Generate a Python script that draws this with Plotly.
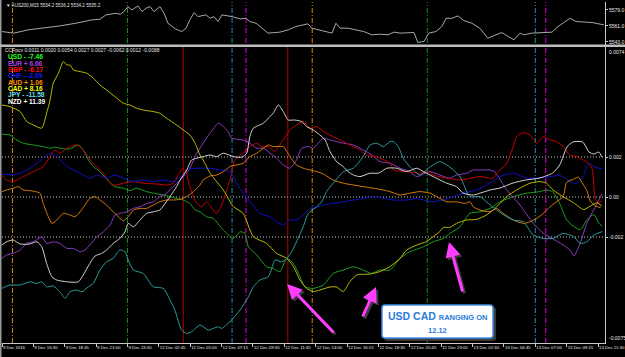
import plotly.graph_objects as go

W, H = 625, 357

# ---------------- data ----------------
X_TICK_BARS = [0, 9, 18, 27, 36, 45, 54, 63, 72, 81, 90, 99, 108, 117, 126, 135, 144, 153, 162, 171]
X_TICK_LABELS = ["9 Dec 2016", "9 Dec 16:30", "9 Dec 18:45", "9 Dec 21:00", "9 Dec 23:30",
                 "12 Dec 02:45", "12 Dec 05:00", "12 Dec 07:15", "12 Dec 09:30", "12 Dec 11:45",
                 "12 Dec 14:00", "12 Dec 16:15", "12 Dec 18:30", "12 Dec 20:45", "12 Dec 23:00",
                 "13 Dec 02:30", "13 Dec 04:45", "13 Dec 07:00", "13 Dec 09:15", "13 Dec 11:30"]

SESSION_BARS = [3, 36, 66, 70, 89, 122, 153, 156]
SESSION_KIND = ["orange", "green", "cyan", "magenta", "orange", "green", "cyan", "magenta"]
MARK_BARS = [52, 82]

PRICE_TICKS = [5579.0, 5561.0, 5543.0]
CCF_TICKS = [0.002, 0.0, -0.002]
CCF_TICK_TEXT = ["0.002", "0.00", "-0.002"]
CCF_TOP_LABEL = "0.0074"
CCF_BOTTOM_LABEL = "-0.0075"

AUS200 = [(0, 5554.6), (3.4, 5552.8), (7.5, 5556.5), (12.1, 5558.4), (16.6, 5561.0), (21.2, 5564.0),
          (25.8, 5567.8), (28.1, 5568.5), (29.8, 5573.4), (32.7, 5575.3), (33.9, 5574.1), (35.0, 5577.1),
          (36.1, 5582.8), (37.3, 5579.0), (39.0, 5583.5), (40.2, 5577.1), (41.3, 5580.9), (42.5, 5582.8),
          (43.6, 5577.1), (45.3, 5582.8), (46.5, 5575.3), (47.6, 5564.0), (49.9, 5557.3), (51.6, 5554.6),
          (52.8, 5558.4), (53.9, 5567.8), (55.1, 5576.0), (56.2, 5571.5), (57.4, 5572.3), (58.5, 5573.4),
          (59.7, 5569.6), (60.8, 5571.5), (62.0, 5565.9), (63.1, 5573.4), (66.0, 5571.5), (68.3, 5568.9),
          (70.0, 5569.6), (71.1, 5565.9), (72.9, 5564.0), (75.2, 5556.5), (76.3, 5552.8), (79.7, 5553.9),
          (82.1, 5556.5), (84.3, 5560.3), (87.8, 5563.3), (88.9, 5558.4), (92.9, 5554.6), (94.7, 5552.8),
          (95.8, 5564.0), (97.0, 5558.4), (99.3, 5558.4), (103.8, 5554.6), (106.1, 5550.9), (108.4, 5551.6),
          (110.7, 5550.9), (112.5, 5553.9), (114.2, 5552.8), (118.2, 5553.5), (119.3, 5542.3), (121.1, 5543.4),
          (122.4, 5552.8), (124.5, 5554.6), (126.2, 5560.3), (127.4, 5569.6), (129.1, 5569.6), (130.8, 5572.3),
          (132.5, 5567.0), (134.8, 5564.0), (137.1, 5558.4), (139.4, 5547.1), (141.7, 5550.9), (143.4, 5553.5),
          (145.2, 5549.0), (146.9, 5545.3), (148.6, 5552.8), (149.7, 5550.9), (152.0, 5552.8), (155.5, 5553.9),
          (157.8, 5553.9), (159.5, 5560.3), (161.2, 5564.8), (163.0, 5569.6), (164.7, 5565.9), (167.0, 5565.1),
          (169.3, 5564.8), (172.7, 5562.1)]

USD = [(0, 0.00314), (2.3, 0.0031), (4.2, 0.00285), (6.1, 0.00269), (9.0, 0.0026), (11.8, 0.00252),
       (13.8, 0.00244), (15.2, 0.00249), (16.6, 0.00244), (18.6, 0.00239), (20.0, 0.00244), (21.9, 0.0026),
       (23.3, 0.00235), (24.8, 0.00185), (26.2, 0.00152), (28.1, 0.00127), (30.5, 0.0008), (32.4, 0.00052),
       (34.8, 0.00044), (36.7, 0.00032), (38.6, 0.00044), (41.5, 0.00027), (43.4, 0.00019), (46.3, 0.0001),
       (48.2, 0.00002), (50.1, -0.00007), (52.0, -0.00015), (53.9, -0.00032), (55.4, -0.00065), (56.8, -0.00074),
       (58.7, -0.00099), (60.6, -0.00107), (63.5, -0.00165), (66.4, -0.00207), (68.3, -0.00174), (69.7, -0.00182),
       (70.7, -0.00249), (73.1, -0.0029), (75.9, -0.00349), (77.8, -0.00357), (79.7, -0.00374), (81.7, -0.00307),
       (83.6, -0.00332), (85.5, -0.00399), (86.9, -0.00449), (89.3, -0.00457), (92.2, -0.0044), (95.0, -0.00382),
       (97.9, -0.00365), (100.8, -0.00349), (103.6, -0.00365), (106.0, -0.00382), (108.4, -0.00365),
       (111.3, -0.00365), (114.2, -0.00307), (117.0, -0.00274), (120.9, -0.00249), (123.7, -0.00224),
       (126.6, -0.00207), (128.5, -0.00182), (131.4, -0.00149), (134.2, -0.00082), (137.1, -0.00074),
       (140.0, -0.00057), (142.9, -0.00024), (146.7, 0.00002), (150.5, 0.00019), (154.3, 0.00027),
       (156.2, 0.00035), (158.1, 0.00025), (160.1, -0.00037), (162.0, -0.00114), (164.0, -0.00147),
       (165.9, -0.00164), (167.8, -0.00114), (169.8, -0.00088), (171.2, -0.0013), (172.2, -0.00147)]

EUR = [(0, -0.00307), (1.3, -0.0029), (3.2, -0.00282), (5.2, -0.00265), (7.1, -0.00232), (9.0, -0.00224),
       (11.4, -0.00199), (12.8, -0.00232), (14.7, -0.00224), (16.6, -0.00232), (18.6, -0.00257), (20.5, -0.00257),
       (22.4, -0.00274), (23.8, -0.00265), (25.2, -0.0024), (27.2, -0.00199), (29.1, -0.00174), (31.0, -0.0014),
       (32.4, -0.0009), (33.8, -0.00082), (35.8, -0.00074), (37.7, -0.00057), (39.6, -0.00049), (41.5, -0.00032),
       (43.4, -0.00024), (45.3, 0.00002), (47.2, 0.00019), (49.1, 0.00052), (51.1, 0.00085), (53.0, 0.00119),
       (53.9, 0.00144), (55.9, 0.00219), (57.7, 0.00269), (59.7, 0.00319), (62.1, 0.00369), (63.5, 0.00352),
       (64.9, 0.00327), (65.9, 0.00294), (67.3, 0.00289), (69.2, 0.00285), (71.1, 0.00269), (73.1, 0.00244),
       (75.0, 0.00244), (76.9, 0.00219), (78.8, 0.00194), (80.7, 0.0016), (82.6, 0.00144), (84.5, 0.00185),
       (86.0, 0.00244), (87.9, 0.00252), (89.3, 0.00244), (90.7, 0.00269), (92.2, 0.00294), (94.1, 0.00285),
       (96.0, 0.00277), (97.9, 0.00269), (100.8, 0.0026), (103.6, 0.00235), (106.1, 0.0021), (108.4, 0.00177),
       (111.3, 0.00169), (114.2, 0.00144), (117.0, 0.00127), (119.0, 0.00102), (122.8, 0.00127), (125.6, 0.0011),
       (128.5, 0.00094), (130.4, 0.0011), (133.3, 0.00119), (135.2, 0.00135), (137.1, 0.00135), (140.0, 0.00135),
       (141.4, 0.00125), (144.8, 0.00035), (148.6, -0.0004), (152.3, -0.0013), (155.2, -0.0018),
       (158.6, -0.00215), (161.0, -0.0024), (163.0, -0.00265), (164.1, -0.00295), (165.9, -0.0023),
       (167.8, -0.0013), (169.8, -0.00063), (172.1, 0.00015)]

GBP = [(0, 0.0011), (1.3, 0.00085), (3.2, 0.00077), (5.2, 0.00094), (7.1, 0.0011), (9.0, 0.00127),
       (11.8, 0.00152), (13.8, 0.00202), (15.2, 0.00235), (16.6, 0.00219), (18.6, 0.00244), (20.0, 0.00255),
       (21.4, 0.0026), (22.9, 0.00244), (24.3, 0.0021), (25.7, 0.00177), (27.2, 0.00152), (29.1, 0.00119),
       (30.0, 0.00094), (31.5, 0.0006), (32.9, 0.0006), (34.8, 0.00069), (37.7, 0.00077), (40.5, 0.00069),
       (44.4, 0.00065), (47.2, 0.0006), (49.1, 0.00069), (50.6, 0.0011), (51.9, 0.00144), (52.8, 0.00125),
       (53.9, 0.00052), (54.9, 0.00002), (55.9, -0.00032), (57.3, -0.00049), (58.7, -0.00024), (60.2, -0.00057),
       (61.6, -0.00082), (63.0, -0.0004), (64.5, 0.00035), (65.9, 0.00119), (66.8, 0.00185), (69.2, 0.00219),
       (71.1, 0.00252), (73.1, 0.00269), (74.5, 0.00252), (76.4, 0.00252), (78.3, 0.00227), (79.3, 0.00252),
       (80.7, 0.00285), (82.6, 0.00335), (84.5, 0.0036), (86.4, 0.00377), (88.4, 0.00344), (90.3, 0.00352),
       (92.2, 0.00327), (95.0, 0.00302), (97.9, 0.00277), (100.8, 0.00252), (102.7, 0.00235), (104.6, 0.0021),
       (107.5, 0.00202), (111.3, 0.00169), (112.3, 0.00135), (116.1, 0.00127), (119.9, 0.00119), (122.3, 0.00127),
       (123.7, 0.0011), (127.6, 0.00094), (131.4, 0.00085), (137.1, 0.00102), (140.9, 0.00094), (141.9, 0.00119),
       (144.8, 0.00169), (146.7, 0.00252), (147.6, 0.00302), (149.6, 0.00322), (151.5, 0.0031), (153.4, 0.00269),
       (155.3, 0.00302), (157.2, 0.00285), (159.1, 0.00277), (161.0, 0.00252), (162.9, 0.0021), (164.9, 0.00202),
       (165.9, 0.00192), (167.8, 0.00175), (169.3, 0.00141), (169.8, 0.00056), (170.3, -0.00012),
       (171.3, -0.00029), (172.2, -0.0002)]

CHF = [(0, 0.00115), (2.3, 0.0011), (5.2, 0.00119), (8.0, 0.00144), (10.0, 0.00169), (11.8, 0.00194),
       (13.8, 0.00219), (15.7, 0.00202), (17.6, 0.00169), (19.5, 0.00144), (21.4, 0.00127), (23.3, 0.0011),
       (25.2, 0.00094), (27.2, 0.0011), (30.0, 0.00094), (32.4, 0.0011), (34.8, 0.00094), (37.7, 0.00077),
       (40.5, 0.00085), (43.4, 0.00077), (46.3, 0.00085), (49.1, 0.00077), (51.1, 0.001), (53.9, 0.0014),
       (56.8, 0.00144), (59.7, 0.00144), (62.5, 0.00135), (65.4, 0.00127), (66.8, 0.00085), (69.2, 0.00019),
       (71.6, -0.00032), (74.0, -0.00082), (76.9, -0.00099), (78.8, -0.00124), (80.7, -0.0014), (82.6, -0.00115),
       (84.5, -0.00115), (86.4, -0.0009), (88.4, -0.00057), (90.3, -0.00049), (92.2, -0.0004), (95.0, -0.00032),
       (97.9, -0.00024), (100.8, -0.00015), (103.6, -0.00007), (106.5, 0.00002), (109.4, -0.00007),
       (112.3, -0.00015), (116.1, -0.00015), (119.0, -0.00007), (122.8, -0.00024), (126.6, -0.00015),
       (129.5, 0.00002), (132.3, 0.00019), (136.2, 0.00035), (140.0, 0.00069), (142.9, 0.00102), (146.7, 0.00119),
       (150.5, 0.00094), (153.5, 0.00095), (156.3, 0.001), (160.1, 0.00107), (162.0, 0.0009), (164.0, 0.00065),
       (165.4, 0.00073), (166.9, 0.00107), (167.8, 0.00158), (168.8, 0.00167), (169.8, 0.0015), (172.2, 0.00141)]

AUD = [(0, 0.00027), (1.3, 0.00035), (3.2, 0.00044), (4.7, 0.00052), (6.1, 0.00035), (8.0, 0.00032),
       (10.9, 0.00019), (11.8, -0.00032), (13.3, -0.00099), (14.3, -0.00132), (15.7, -0.00115), (17.6, -0.00082),
       (19.5, -0.0009), (20.9, -0.00099), (22.4, -0.00074), (23.8, -0.0004), (25.2, -0.00007), (26.7, 0.00002),
       (28.1, -0.00015), (30.0, -0.0004), (31.9, -0.00074), (33.4, -0.00099), (34.8, -0.00119), (36.2, -0.00099),
       (37.7, -0.00065), (39.6, -0.00057), (41.5, -0.00057), (43.4, -0.0004), (45.3, -0.00024), (47.2, -0.00015),
       (49.1, -0.00015), (51.1, -0.00012), (53.0, 0.00002), (54.9, 0.00027), (56.8, 0.0006), (57.7, 0.00085),
       (59.7, 0.00105), (61.6, 0.0011), (63.5, 0.00127), (65.4, 0.00152), (67.3, 0.0016), (69.2, 0.00169),
       (71.1, 0.00202), (73.1, 0.00219), (75.0, 0.00244), (76.4, 0.0026), (77.8, 0.00252), (80.7, 0.00252),
       (81.7, 0.00227), (82.6, 0.00202), (84.5, 0.0016), (86.4, 0.00144), (88.4, 0.00135), (90.3, 0.00127),
       (92.2, 0.00115), (95.0, 0.00085), (97.9, 0.00069), (100.8, 0.0006), (103.6, 0.00052), (106.5, 0.00044),
       (109.4, 0.00035), (111.3, 0.00027), (114.2, 0.0001), (117.0, 0.00019), (119.9, 0.00027), (122.8, 0.00019),
       (124.7, 0.00002), (127.6, -0.00024), (130.4, -0.00024), (132.8, -0.00032), (134.3, -0.00024),
       (135.2, -0.00049), (137.1, -0.00065), (140.0, -0.00074), (141.9, -0.00057), (143.8, -0.00082),
       (146.7, -0.00115), (149.6, -0.00132), (151.5, -0.00124), (153.4, -0.00107), (155.3, -0.00082),
       (157.2, -0.00049), (159.1, -0.00024), (161.0, 0.00002), (162.0, 0.00073), (164.0, 0.0009),
       (165.4, 0.00099), (166.4, 0.00073), (167.8, 0.00031), (168.8, -0.0002), (170.3, -0.00045), (171.8, -0.00054)]

CAD = [(0, 0.0046), (2.3, 0.00452), (5.2, 0.00427), (7.1, 0.00377), (9.0, 0.0036), (11.4, 0.00344),
       (12.8, 0.00419), (13.8, 0.00485), (14.7, 0.00569), (16.2, 0.00619), (17.6, 0.00677), (18.6, 0.0066),
       (19.5, 0.0066), (20.5, 0.00635), (22.4, 0.00627), (24.3, 0.00619), (26.2, 0.00594), (28.1, 0.0056),
       (30.0, 0.00535), (32.4, 0.00502), (34.8, 0.00469), (36.7, 0.0046), (38.6, 0.00444), (40.5, 0.00435),
       (43.4, 0.00427), (45.3, 0.00419), (47.2, 0.00394), (50.1, 0.0036), (52.0, 0.00335), (53.9, 0.0031),
       (55.4, 0.00269), (56.8, 0.0021), (57.7, 0.00185), (59.7, 0.00119), (63.5, 0.00035), (66.4, -0.00048),
       (69.2, -0.00082), (72.1, -0.00198), (75.9, -0.00232), (78.8, -0.00282), (81.7, -0.00307), (83.6, -0.00348),
       (85.5, -0.00415), (87.4, -0.00457), (89.3, -0.00473), (91.2, -0.00465), (94.1, -0.0045), (96.0, -0.0045),
       (97.9, -0.00473), (99.8, -0.00423), (101.8, -0.0039), (105.6, -0.00385), (108.4, -0.00373),
       (111.3, -0.00348), (114.2, -0.00307), (116.1, -0.00265), (119.0, -0.0024), (121.8, -0.00223),
       (123.7, -0.00198), (125.6, -0.00173), (126.6, -0.00152), (128.5, -0.00152), (130.4, -0.00132),
       (133.3, -0.00115), (136.2, -0.00112), (139.0, -0.0009), (140.9, -0.00065), (142.9, -0.00032),
       (144.8, 0.00002), (147.6, 0.00035), (151.5, 0.00069), (154.3, 0.00077), (156.2, 0.00069), (158.1, 0.00035),
       (161.0, 0.00002), (164.0, -0.00029), (166.9, -0.00063), (168.8, -0.00045), (170.7, -0.00029),
       (172.1, -0.00045)]

JPY = [(0, -0.00457), (2.3, -0.0044), (5.2, -0.0044), (8.0, -0.00424), (10.0, -0.00432), (11.4, -0.00424),
       (12.8, -0.00449), (14.7, -0.00445), (16.6, -0.00474), (18.1, -0.00507), (19.5, -0.00474), (21.4, -0.00465),
       (22.9, -0.00474), (24.8, -0.00449), (26.2, -0.00432), (28.1, -0.00365), (30.0, -0.00324), (31.9, -0.00307),
       (33.8, -0.00265), (35.3, -0.00274), (36.2, -0.00315), (37.7, -0.00365), (40.5, -0.00382), (43.4, -0.00449),
       (46.3, -0.00457), (48.2, -0.00515), (49.6, -0.00565), (51.5, -0.00665), (53.0, -0.00682), (54.4, -0.00674),
       (56.8, -0.0064), (59.2, -0.00665), (60.6, -0.00657), (62.1, -0.00649), (63.0, -0.00657), (65.4, -0.00624),
       (68.3, -0.00565), (70.7, -0.00499), (72.1, -0.00449), (74.0, -0.00415), (76.4, -0.00399), (77.4, -0.00357),
       (78.3, -0.00315), (80.2, -0.00324), (81.7, -0.00307), (83.1, -0.00274), (84.5, -0.00224), (86.4, -0.00149),
       (87.9, -0.00082), (90.3, -0.00049), (91.7, -0.00024), (93.1, 0.00027), (95.0, 0.00069), (97.0, 0.0011),
       (97.9, 0.00127), (100.8, 0.00144), (103.6, 0.00202), (105.6, 0.0026), (107.5, 0.00269), (109.4, 0.00252),
       (111.3, 0.00277), (112.3, 0.00277), (113.7, 0.00252), (115.1, 0.00194), (117.0, 0.00152), (119.9, 0.0011),
       (122.3, 0.00144), (125.6, 0.00177), (127.6, 0.0016), (129.5, 0.00135), (131.4, 0.00102), (132.3, 0.00069),
       (134.2, 0.00002), (137.1, 0.00002), (139.0, -0.00024), (141.9, -0.00065), (144.8, -0.00099),
       (146.7, -0.00115), (149.6, -0.00124), (152.4, -0.0019), (155.3, -0.00207), (158.1, -0.00207),
       (161.0, -0.00182), (164.0, -0.00198), (165.9, -0.00232), (167.8, -0.00224), (169.8, -0.0019),
       (172.2, -0.00173)]

NZD = [(0, -0.0024), (1.3, -0.00224), (3.2, -0.00215), (5.2, -0.00235), (8.0, -0.00235), (10.0, -0.00224),
       (11.4, -0.00249), (12.8, -0.00332), (14.3, -0.00399), (15.7, -0.00415), (18.6, -0.00424), (21.9, -0.00424),
       (23.3, -0.0039), (25.2, -0.00332), (26.7, -0.00295), (28.6, -0.00282), (30.0, -0.00265), (31.9, -0.00232),
       (33.8, -0.00207), (35.3, -0.00174), (36.2, -0.00132), (37.7, -0.00149), (39.6, -0.00115), (41.5, -0.00082),
       (43.4, -0.00074), (45.3, -0.00065), (46.8, -0.00032), (48.2, 0.00002), (50.1, 0.00052), (51.1, 0.00085),
       (53.0, 0.00135), (54.4, 0.00185), (55.9, 0.00194), (57.7, 0.00202), (59.7, 0.0021), (61.6, 0.00202),
       (63.5, 0.00219), (66.4, 0.00202), (68.8, 0.00199), (70.2, 0.00219), (71.1, 0.00302), (72.1, 0.00344),
       (75.0, 0.00369), (76.4, 0.00394), (77.8, 0.00419), (79.3, 0.0046), (80.7, 0.00427), (82.1, 0.00385),
       (84.0, 0.00385), (86.0, 0.00377), (87.4, 0.00352), (89.3, 0.00335), (91.2, 0.0031), (92.7, 0.00285),
       (94.1, 0.00227), (96.0, 0.00177), (97.9, 0.00152), (99.3, 0.00127), (100.8, 0.0011), (102.7, 0.00102),
       (105.6, 0.00119), (108.0, 0.00119), (110.4, 0.00144), (113.2, 0.00144), (116.1, 0.00127), (119.0, 0.00144),
       (120.9, 0.00127), (123.7, 0.00102), (127.6, 0.00069), (130.4, 0.00052), (132.3, 0.00019), (135.2, 0.0001),
       (137.1, 0.00019), (140.0, 0.00035), (142.9, 0.00045), (146.6, 0.0007), (150.3, 0.00085), (154.3, 0.00095),
       (158.0, 0.0012), (160.0, 0.0016), (162.1, 0.0025), (163.8, 0.00275), (166.6, 0.00275), (168.4, 0.00225),
       (169.8, 0.00215), (171.2, 0.00225), (172.1, 0.002)]

CURRENCIES = ["USD", "EUR", "GBP", "CHF", "AUD", "CAD", "JPY", "NZD"]
SERIES = [USD, EUR, GBP, CHF, AUD, CAD, JPY, NZD]
STRENGTH_TEXT = ["- -7.46", "+ 6.66", "- -6.17", "- -2.09", "+ 1.06", "+ 8.16", "- -11.58", "+ 11.39"]

TOP_TITLE = "\u25bc AUS200,M15 5534.2 5536.2 5534.2 5535.2"
SUB_TITLE = "CCFpcv 0.0011 0.0020 0.0054 0.0027 0.0027 -0.0062 0.0012 -0.0088"
NOTE_MAIN = "USD CAD"
NOTE_SMALL = "RANGING ON"
NOTE_DATE = "12.12"

# ---------------- styling ----------------
LINE_COLORS = ["#1ea01e", "#8a3cc0", "#c80000", "#1010c8", "#d87a0a", "#bcbc00", "#2f9c9c", "#d4d4d4"]
TEXT_COLORS = ["#22ff22", "#a040e0", "#ff1010", "#1a1aff", "#ff8c00", "#ffff00", "#60e0f0", "#ffffff"]
SESSION_COLORS = {"orange": "#d98a00", "green": "#1a8f1a", "cyan": "#1f8fb0", "magenta": "#e000e0"}

X0, X1 = 2, 605           # plot area in px
LOW_TOP, LOW_BOT = 47, 343
TOP_TOP, TOP_BOT = 2, 45
SMALL_FONT = "Liberation Sans"


def fx(px):
    return px / W


def fy(py):
    return 1 - py / H


fig = go.Figure()

fig.add_trace(go.Scatter(x=[p[0] for p in AUS200], y=[p[1] for p in AUS200], mode="lines",
                         line=dict(color="#a8a8a8", width=1), xaxis="x2", yaxis="y2",
                         hoverinfo="skip", showlegend=False))

for name, ser, col in zip(CURRENCIES, SERIES, LINE_COLORS):
    fig.add_trace(go.Scatter(x=[p[0] for p in ser], y=[p[1] for p in ser], mode="lines", name=name,
                             line=dict(color=col, width=1, shape="spline", smoothing=0.6),
                             xaxis="x", yaxis="y", hoverinfo="skip", showlegend=False))

shapes = []
shapes.append(dict(type="rect", xref="paper", yref="paper", x0=0, x1=fx(1.5), y0=0, y1=1,
                   fillcolor="#9a9a9a", line=dict(width=0), layer="below"))
shapes.append(dict(type="rect", xref="paper", yref="paper", x0=0, x1=1, y0=fy(47), y1=fy(44.5),
                   fillcolor="#bdbdbd", line=dict(width=0), layer="above"))

for b, kind in zip(SESSION_BARS, SESSION_KIND):
    shapes.append(dict(type="line", xref="x", yref="paper", x0=b, x1=b, y0=fy(LOW_BOT), y1=fy(TOP_TOP),
                       line=dict(color=SESSION_COLORS[kind], width=1, dash="5px,2px,1px,2px"),
                       layer="below"))
for b in MARK_BARS:
    shapes.append(dict(type="line", xref="x", yref="paper", x0=b, x1=b, y0=fy(LOW_BOT), y1=fy(LOW_TOP),
                       line=dict(color="#b00000", width=1), layer="below"))
for v in CCF_TICKS:
    shapes.append(dict(type="line", xref="paper", yref="y", x0=fx(X0), x1=fx(X1), y0=v, y1=v,
                       line=dict(color="#c8c8c8", width=1, dash="1px,2px"), layer="below"))


def rrect(x0, y0, x1, y1, r):
    return (f"M {fx(x0 + r)},{fy(y0)} L {fx(x1 - r)},{fy(y0)} Q {fx(x1)},{fy(y0)} {fx(x1)},{fy(y0 + r)} "
            f"L {fx(x1)},{fy(y1 - r)} Q {fx(x1)},{fy(y1)} {fx(x1 - r)},{fy(y1)} "
            f"L {fx(x0 + r)},{fy(y1)} Q {fx(x0)},{fy(y1)} {fx(x0)},{fy(y1 - r)} "
            f"L {fx(x0)},{fy(y0 + r)} Q {fx(x0)},{fy(y0)} {fx(x0 + r)},{fy(y0)} Z")


shapes.append(dict(type="path", xref="paper", yref="paper", path=rrect(384, 307, 496, 341, 3),
                   fillcolor="#3a3a3a", line=dict(width=0), layer="above"))
shapes.append(dict(type="path", xref="paper", yref="paper", path=rrect(382, 305, 493, 338, 3),
                   fillcolor="#ffffff", line=dict(color="#3f8fe8", width=1.5), layer="above"))

annotations = []
annotations.append(dict(xref="paper", yref="paper", x=fx(4), y=fy(5.5), xanchor="left", yanchor="middle",
                        text=TOP_TITLE, showarrow=False,
                        font=dict(family=SMALL_FONT, size=4.6, color="#e0e0e0")))
annotations.append(dict(xref="paper", yref="paper", x=fx(3), y=fy(50.5), xanchor="left", yanchor="middle",
                        text=SUB_TITLE, showarrow=False,
                        font=dict(family=SMALL_FONT, size=5, color="#e0e0e0")))
for i, (name, val, col) in enumerate(zip(CURRENCIES, STRENGTH_TEXT, TEXT_COLORS)):
    annotations.append(dict(xref="paper", yref="paper", x=fx(6), y=fy(57 + i * 6.3), xanchor="left",
                            yanchor="middle", text=f"<b>{name} {val}</b>", showarrow=False,
                            font=dict(family="Liberation Sans", size=6.6, color=col)))
annotations.append(dict(xref="paper", yref="y", x=fx(X1 + 2), y=0.0075, xanchor="left", yanchor="top",
                        text=CCF_TOP_LABEL, showarrow=False,
                        font=dict(family=SMALL_FONT, size=5, color="#e8e8e8")))
annotations.append(dict(xref="paper", yref="y", x=fx(X1 + 2), y=-0.0073, xanchor="left", yanchor="bottom",
                        text=CCF_BOTTOM_LABEL, showarrow=False,
                        font=dict(family=SMALL_FONT, size=5, color="#e8e8e8")))
annotations.append(dict(xref="paper", yref="paper", x=fx(437.5), y=fy(316), xanchor="center",
                        yanchor="middle", showarrow=False,
                        text=f"<b>{NOTE_MAIN} <span style='font-size:7.5px'>{NOTE_SMALL}</span></b>",
                        font=dict(family="Liberation Sans", size=10.5, color="#2a7be0")))
annotations.append(dict(xref="paper", yref="paper", x=fx(437.5), y=fy(330), xanchor="center",
                        yanchor="middle", showarrow=False, text=f"<b>{NOTE_DATE}</b>",
                        font=dict(family="Liberation Sans", size=7.5, color="#2a7be0")))

ARROWS = [(287, 284, 48, 50), (376, 287, -14, 31), (449, 242, 14, 51)]
for hx, hy, dx, dy in ARROWS:
    annotations.append(dict(xref="paper", yref="paper", x=fx(hx + 2), y=fy(hy + 2), ax=dx, ay=dy,
                            text="", showarrow=True, arrowhead=2, arrowsize=1, arrowwidth=3,
                            arrowcolor="#3a3a3a"))
    annotations.append(dict(xref="paper", yref="paper", x=fx(hx), y=fy(hy), ax=dx, ay=dy,
                            text="", showarrow=True, arrowhead=2, arrowsize=1, arrowwidth=3,
                            arrowcolor="#ff3cff"))

axis_font = dict(family=SMALL_FONT, size=5, color="#e8e8e8")

fig.update_layout(
    width=W, height=H, margin=dict(l=0, r=0, t=0, b=0, autoexpand=False),
    paper_bgcolor="#000000", plot_bgcolor="rgba(0,0,0,0)",
    showlegend=False,
    shapes=shapes, annotations=annotations,
    xaxis=dict(domain=[fx(X0), fx(X1)], range=[0, 173], anchor="y", showgrid=False, zeroline=False,
               automargin=False, tickangle=0,
               tickmode="array", tickvals=X_TICK_BARS, ticktext=X_TICK_LABELS,
               ticks="outside", ticklen=3, tickcolor="#c8c8c8",
               tickfont=dict(family=SMALL_FONT, size=4.3, color="#e8e8e8"),
               ticklabelposition="outside right", showline=True, linecolor="#c8c8c8", linewidth=1),
    xaxis2=dict(domain=[fx(X0), fx(X1)], range=[0, 173], anchor="y2", matches="x", showgrid=False,
                zeroline=False, showticklabels=False, ticks="", automargin=False),
    yaxis=dict(domain=[fy(LOW_BOT), fy(LOW_TOP)], range=[-0.0073, 0.0075], side="right", anchor="x",
               showgrid=False, zeroline=False, automargin=False,
               tickmode="array", tickvals=CCF_TICKS, ticktext=CCF_TICK_TEXT,
               ticks="outside", ticklen=2, tickcolor="#c8c8c8", tickfont=axis_font,
               showline=True, linecolor="#c8c8c8", linewidth=1),
    yaxis2=dict(domain=[fy(TOP_BOT), fy(TOP_TOP)], range=[5539.4, 5588], side="right", anchor="x2",
                showgrid=False, zeroline=False, automargin=False, tickmode="array", tickvals=PRICE_TICKS,
                ticktext=[f"{v:.1f}" for v in PRICE_TICKS],
                ticks="outside", ticklen=2, tickcolor="#c8c8c8", tickfont=axis_font,
                showline=True, linecolor="#c8c8c8", linewidth=1),
)

fig.write_html("out.html")
